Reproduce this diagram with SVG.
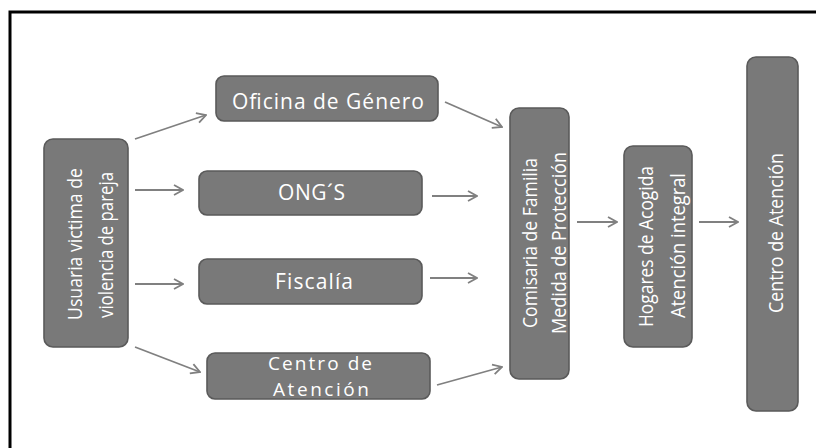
<svg xmlns="http://www.w3.org/2000/svg" width="816" height="448" viewBox="0 0 816 448">
<style>
.box{fill:#797979;stroke:#5a5a5a;stroke-width:1.6}
.t{font-family:"Open Sans","Noto Sans",sans-serif;font-size:21px;fill:#ffffff}
.v{font-size:20px}
.s{font-size:19px}
.c{stroke:#808080;stroke-width:1.8;fill:none;marker-end:url(#ah)}
</style>
<defs>
<marker id="ah" markerUnits="userSpaceOnUse" markerWidth="12" markerHeight="12" viewBox="0 0 12 12" refX="11" refY="6" orient="auto">
<path d="M2,1 L11,6 L2,11" fill="none" stroke="#808080" stroke-width="1.8"/>
</marker>
</defs>
<rect width="816" height="448" fill="#ffffff"/>
<path d="M10,448 L10,12 L816,12" fill="none" stroke="#000000" stroke-width="3"/>
<g id="connectors">
<line class="c" x1="135" y1="139" x2="206" y2="115"/>
<line class="c" x1="135" y1="190" x2="183" y2="190"/>
<line class="c" x1="135" y1="284" x2="183" y2="284"/>
<line class="c" x1="135" y1="347" x2="200" y2="372"/>
<line class="c" x1="445" y1="102" x2="502" y2="127"/>
<line class="c" x1="432" y1="196" x2="477" y2="196"/>
<line class="c" x1="430" y1="278" x2="477" y2="278"/>
<line class="c" x1="437" y1="385" x2="502" y2="367"/>
<line class="c" x1="577" y1="222" x2="617" y2="222"/>
<line class="c" x1="699" y1="222" x2="738" y2="222"/>
</g>
<g id="usuaria">
<rect class="box" x="44" y="139" width="84" height="208" rx="9"/>
<text class="t v" transform="translate(82,320) rotate(-90)" textLength="152" lengthAdjust="spacingAndGlyphs">Usuaria victima de</text>
<text class="t v" transform="translate(113,318) rotate(-90)" textLength="146" lengthAdjust="spacingAndGlyphs">violencia de pareja</text>
</g>
<g id="oficina">
<rect class="box" x="216" y="76" width="222" height="45" rx="8"/>
<text class="t" x="232" y="109" textLength="192" lengthAdjust="spacing">Oficina de Género</text>
</g>
<g id="ongs">
<rect class="box" x="199" y="171" width="223" height="44" rx="8"/>
<text class="t" x="278" y="200" textLength="67" lengthAdjust="spacing">ONG´S</text>
</g>
<g id="fiscalia">
<rect class="box" x="199" y="259" width="223" height="45" rx="8"/>
<text class="t" x="275" y="289" textLength="78" lengthAdjust="spacing">Fiscalía</text>
</g>
<g id="centro-atencion-1">
<rect class="box" x="207" y="353" width="223" height="46" rx="8"/>
<text class="t s" x="268" y="370" textLength="104" lengthAdjust="spacing">Centro de</text>
<text class="t s" x="273" y="396" textLength="96" lengthAdjust="spacing">Atención</text>
</g>
<g id="comisaria">
<rect class="box" x="510" y="108" width="59" height="271" rx="9"/>
<text class="t v" transform="translate(537,328) rotate(-90)" textLength="170" lengthAdjust="spacingAndGlyphs">Comisaria de Familia</text>
<text class="t v" transform="translate(566,334) rotate(-90)" textLength="182" lengthAdjust="spacingAndGlyphs">Medida de Protección</text>
</g>
<g id="hogares">
<rect class="box" x="624" y="146" width="68" height="201" rx="9"/>
<text class="t v" transform="translate(653,327) rotate(-90)" textLength="161" lengthAdjust="spacingAndGlyphs">Hogares de Acogida</text>
<text class="t v" transform="translate(685,318) rotate(-90)" textLength="145" lengthAdjust="spacingAndGlyphs">Atención integral</text>
</g>
<g id="centro-atencion-2">
<rect class="box" x="747" y="57" width="51" height="354" rx="9"/>
<text class="t v" transform="translate(783,313) rotate(-90)" textLength="160" lengthAdjust="spacingAndGlyphs">Centro de Atención</text>
</g>
</svg>
